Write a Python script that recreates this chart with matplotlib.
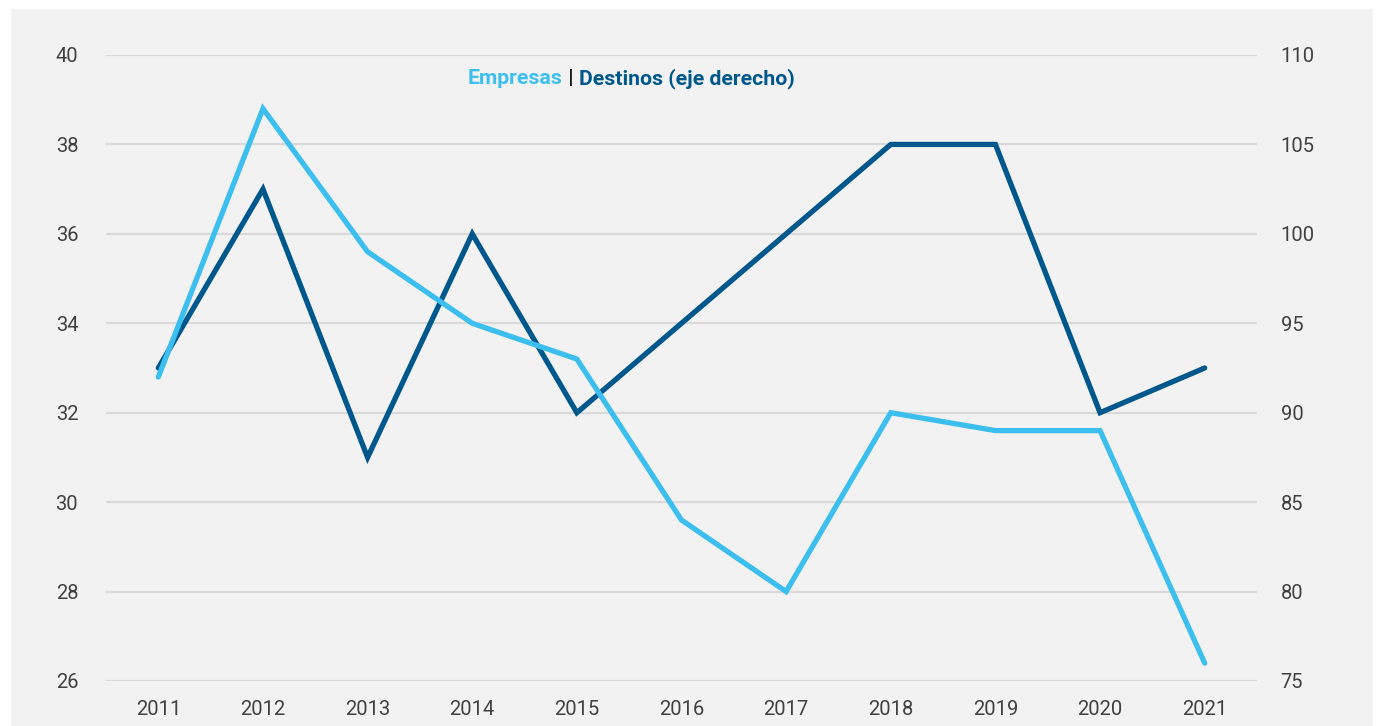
import matplotlib
matplotlib.use("Agg")
import matplotlib.pyplot as plt
from matplotlib.patches import Rectangle

years = [2011, 2012, 2013, 2014, 2015, 2016, 2017, 2018, 2019, 2020, 2021]
empresas = [32.8, 38.8, 35.6, 34.0, 33.2, 29.6, 28.0, 32.0, 31.6, 31.6, 26.4]
destinos = [92.5, 102.5, 87.5, 100.0, 90.0, 95.0, 100.0, 105.0, 105.0, 90.0, 92.5]
left_ticks = [26, 28, 30, 32, 34, 36, 38, 40]
right_ticks = [75, 80, 85, 90, 95, 100, 105, 110]

c_light = "#3cbfee"
c_dark = "#00578c"
c_text = "#404040"

plt.rcParams['font.family'] = ['Roboto', 'DejaVu Sans']

W, H = 1376, 726
fig = plt.figure(figsize=(W / 100, H / 100), dpi=100)
fig.patch.set_facecolor("white")
fig.patches.append(Rectangle((11 / W, 0), (1373 - 11) / W, 1 - 9 / H,
                             transform=fig.transFigure, facecolor="#f2f2f2",
                             edgecolor="none", zorder=-10))

ax = fig.add_axes([106 / W, 1 - 681 / H, (1257 - 106) / W, (681 - 55) / H])
ax2 = ax.twinx()

ax.set_xlim(2010.5, 2021.5)
ax.set_ylim(26, 40)
ax2.set_ylim(75, 110)

for y in left_ticks:
    ax2.axhline(75 + (y - 26) * 2.5, color="#d9d9d9", lw=1.6, zorder=0)

ax2.plot(years, destinos, color=c_dark, lw=3.8, solid_capstyle="round",
         solid_joinstyle="miter", zorder=2)
ax.plot(years, empresas, color=c_light, lw=3.8, solid_capstyle="round",
        solid_joinstyle="miter", zorder=3)
# empresas drawn on top of the second axes
ax.set_zorder(1)
ax2.set_zorder(0)
ax.patch.set_visible(False)
ax2.patch.set_visible(False)

ax.set_xticks(years)
ax.set_yticks(left_ticks)
ax2.set_yticks(right_ticks)
ax.tick_params(axis="both", length=0, labelsize=14.5, colors=c_text)
ax.tick_params(axis="x", pad=14)
ax.tick_params(axis="y", pad=20)
ax2.tick_params(axis="y", length=0, labelsize=14.5, colors=c_text, pad=17)
for a in (ax, ax2):
    for s in a.spines.values():
        s.set_visible(False)

# two-colour heading inside the plot
fig.canvas.draw()
r = fig.canvas.get_renderer()
x0 = 468 / W
yt = 1 - 79 / H
parts = [("Empresas", c_light), (" | ", "#1a1a1a"), ("Destinos (eje derecho)", c_dark)]
for txt, col in parts:
    t = fig.text(x0, yt, txt, color=col, fontsize=15.3, fontweight="bold",
                 ha="left", va="center")
    bb = t.get_window_extent(renderer=r)
    x0 += bb.width / W

fig.savefig("out.png", dpi=100, facecolor=fig.get_facecolor())
